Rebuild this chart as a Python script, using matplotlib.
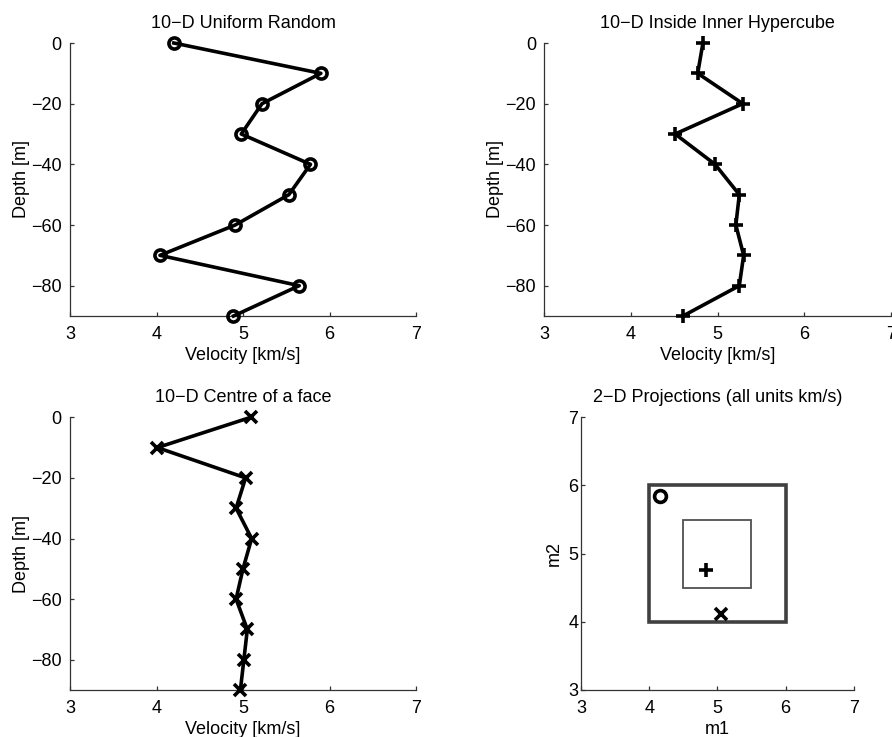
import matplotlib
matplotlib.use("Agg")
import matplotlib.pyplot as plt
from matplotlib.patches import Rectangle

plt.rcParams['font.family'] = ['Liberation Sans', 'DejaVu Sans']
plt.rcParams['font.size'] = 13
plt.rcParams['axes.unicode_minus'] = True

# ---- data ----
depth = [0, -10, -20, -30, -40, -50, -60, -70, -80, -90]
vel_uniform = [4.20, 5.90, 5.22, 4.98, 5.78, 5.53, 4.91, 4.04, 5.65, 4.89]
vel_inner = [4.83, 4.77, 5.29, 4.51, 4.97, 5.25, 5.21, 5.30, 5.25, 4.60]
vel_face = [5.09, 4.01, 5.03, 4.92, 5.10, 5.00, 4.92, 5.05, 5.01, 4.97]

proj_m1 = [4.16, 4.83, 5.05]
proj_m2 = [5.85, 4.76, 4.11]
proj_markers = ['o', '+', 'x']

outer_box = (4.0, 6.0)
inner_box = (4.5, 5.5)

titles = ["10\u2212D Uniform Random", "10\u2212D Inside Inner Hypercube",
          "10\u2212D Centre of a face", "2\u2212D Projections (all units km/s)"]

W, H = 892, 737
fig = plt.figure(figsize=(W / 100, H / 100), dpi=100)


def ax_px(left, right, top, bottom):
    return fig.add_axes([left / W, (H - bottom) / H, (right - left) / W, (bottom - top) / H])


def style(ax, ypad=6):
    for s in ['top', 'right']:
        ax.spines[s].set_visible(False)
    for s in ['left', 'bottom']:
        ax.spines[s].set_color('#333333')
        ax.spines[s].set_linewidth(0.9)
    ax.tick_params(direction='in', length=3, width=0.9, color='#333333',
                   labelsize=13)
    ax.tick_params(axis='x', pad=7.5)
    ax.tick_params(axis='y', pad=ypad)


profiles = [
    (vel_uniform, 'o', 8, (70, 416, 43, 316)),
    (vel_inner, '+', 10, (544.3, 891, 43, 316)),
    (vel_face, 'x', 8.5, (70, 416, 417.3, 690)),
]

for i, (vals, mk, ms, pos) in enumerate(profiles):
    ax = ax_px(*pos)
    ax.plot(vals, depth, color='black', lw=2.6, marker=mk, ms=ms,
            mew=2.6, mfc='none', mec='black', clip_on=False, zorder=3)
    ax.set_xlim(3, 7)
    ax.set_ylim(-90, 0)
    ax.set_xticks([3, 4, 5, 6, 7])
    ax.set_yticks([-80, -60, -40, -20, 0])
    ax.set_xlabel("Velocity [km/s]", labelpad=2.5)
    ax.set_ylabel("Depth [m]", labelpad=1)
    ax.set_title(titles[i], fontsize=13, pad=11)
    style(ax)

# projections
ax = ax_px(581, 853.7, 417.3, 690)
for lo_hi, lw, col in [(outer_box, 2.6, '#404040'), (inner_box, 1.3, '#505050')]:
    lo, hi = lo_hi
    ax.add_patch(Rectangle((lo, lo), hi - lo, hi - lo, fill=False,
                           lw=lw, edgecolor=col, zorder=2))
for x, y, mk in zip(proj_m1, proj_m2, proj_markers):
    ms = 8.5 if mk == 'o' else (9.5 if mk == '+' else 8.5)
    ax.plot([x], [y], marker=mk, ms=ms, mew=2.6, mfc='none', mec='black',
            ls='none', zorder=3)
ax.set_xlim(3, 7)
ax.set_ylim(3, 7)
ax.set_xticks([3, 4, 5, 6, 7])
ax.set_yticks([3, 4, 5, 6, 7])
ax.set_xlabel("m1", labelpad=2.5)
ax.set_ylabel("m2", labelpad=4)
ax.set_title(titles[3], fontsize=13, pad=11)
style(ax, ypad=2)

fig.savefig("out.png", dpi=100)
